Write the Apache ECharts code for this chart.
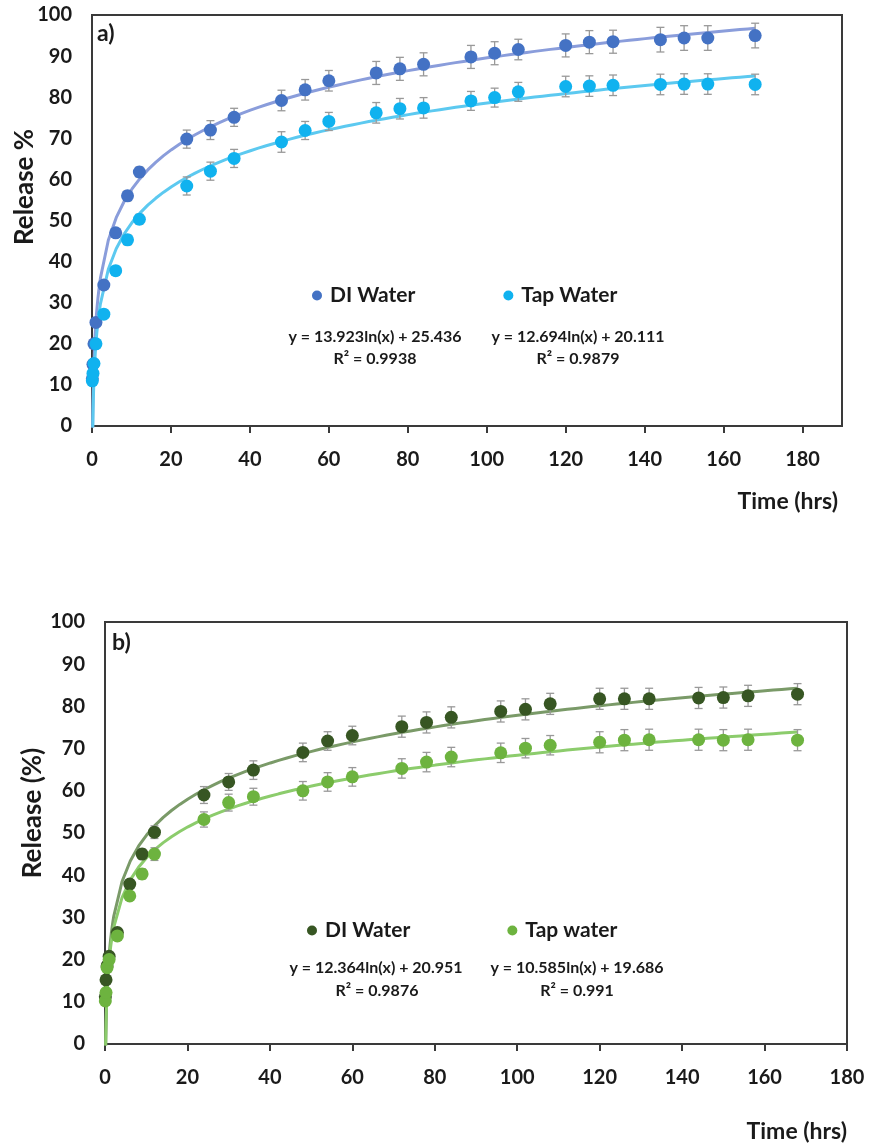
<!DOCTYPE html>
<html>
<head>
<meta charset="utf-8">
<title>Release curves</title>
<script src="https://cdn.jsdelivr.net/npm/echarts@6/dist/echarts.min.js"></script>
<style>
  html, body { margin: 0; padding: 0; background: #fff; }
  #chart { width: 871px; height: 1146px; }
</style>
</head>
<body>
<div id="chart"></div>
<script>
// sampling times (hrs)
var times = [0.083, 0.25, 0.5, 1, 3, 6, 9, 12, 24, 30, 36, 48, 54, 60, 72, 78, 84, 96, 102, 108, 120, 126, 132, 144, 150, 156, 168];

// a) release %
var diA = [11.5, 15, 20, 25.2, 34.3, 47, 56, 61.8, 69.8, 72, 75.1, 79.2, 81.8, 84, 85.9, 86.9, 88, 89.8, 90.7, 91.6, 92.6, 93.4, 93.5, 94, 94.4, 94.4, 95];
var tapA = [11, 12.8, 15.2, 20, 27.2, 37.8, 45.3, 50.3, 58.4, 62, 65.1, 69.1, 71.9, 74.1, 76.2, 77.2, 77.4, 79.1, 79.9, 81.3, 82.6, 82.7, 82.9, 83.1, 83.2, 83.2, 83.1];
var diErrA = [0.5, 0.5, 0.5, 0.8, 1, 1, 1.2, 1.2, 2.2, 2.3, 2.2, 2.5, 2.5, 2.5, 2.8, 2.8, 2.8, 2.8, 2.8, 2.5, 2.8, 2.8, 2.8, 3, 3, 3, 3];
var tapErrA = [0.5, 0.5, 0.5, 0.8, 1, 1, 1.2, 1.2, 2.2, 2.2, 2.2, 2.5, 2.2, 2.2, 2.5, 2.5, 2.5, 2.3, 2.3, 2.3, 2.5, 2.5, 2.5, 2.5, 2.5, 2.5, 2.5];

// b) release (%)
var diB = [11.2, 15.2, 18.5, 20.8, 26.4, 37.9, 45, 50.2, 59, 62.1, 64.9, 69.1, 71.8, 73.1, 75.2, 76.2, 77.4, 78.8, 79.3, 80.6, 81.8, 81.8, 81.8, 82, 82.1, 82.5, 82.9];
var tapB = [10.2, 12.2, 18.1, 20, 25.6, 35.1, 40.3, 45, 53.2, 57.2, 58.6, 60, 62.1, 63.3, 65.3, 66.8, 68, 69, 70.1, 70.8, 71.5, 72, 72.1, 72.1, 72, 72.1, 72];
var diErrB = [0.5, 0.5, 0.5, 0.8, 1, 1, 1.2, 1.5, 2, 2, 2.2, 2.2, 2.2, 2.2, 2.5, 2.5, 2.5, 2.5, 2.5, 2.5, 2.5, 2.5, 2.5, 2.5, 2.5, 2.5, 2.5];
var tapErrB = [0.5, 0.5, 0.5, 0.8, 1, 1, 1.2, 1.5, 1.8, 2, 2, 2.2, 2.2, 2.2, 2.3, 2.3, 2.3, 2.3, 2.3, 2.3, 2.5, 2.5, 2.5, 2.5, 2.5, 2.5, 2.5];

// log trendlines y = a ln(x) + b, as printed on the chart
var fitDiA = [13.923, 25.436];
var fitTapA = [12.694, 20.111];
var fitDiB = [12.364, 20.951];
var fitTapB = [10.585, 19.686];

var xTicks = [0, 20, 40, 60, 80, 100, 120, 140, 160, 180];
var yTicks = [0, 10, 20, 30, 40, 50, 60, 70, 80, 90, 100];

var FONT = 'Lato, "Open Sans", sans-serif';
var AXIS = '#3a3a3a';

function pairs(xs, ys) {
    return xs.map(function (x, i) { return [x, ys[i]]; });
}
function errData(xs, ys, es) {
    return xs.map(function (x, i) { return [x, ys[i] - es[i], ys[i] + es[i]]; });
}
function trend(coef) {
    // trendline drawn from the fitted equation over the data range
    var pts = [];
    var x = 0.1;
    while (x < 168) {
        pts.push([x, coef[0] * Math.log(x) + coef[1]]);
        x = x < 2 ? x * 1.12 : x + 2;
    }
    pts.push([168, coef[0] * Math.log(168) + coef[1]]);
    return pts;
}
function renderErr(params, api) {
    var x = api.value(0);
    var lo = api.coord([x, api.value(1)]);
    var hi = api.coord([x, api.value(2)]);
    var w = 4;
    var st = { stroke: '#999999', lineWidth: 1.3 };
    return {
        type: 'group',
        children: [
            { type: 'line', shape: { x1: lo[0], y1: lo[1], x2: hi[0], y2: hi[1] }, style: st },
            { type: 'line', shape: { x1: lo[0] - w, y1: lo[1], x2: lo[0] + w, y2: lo[1] }, style: st },
            { type: 'line', shape: { x1: hi[0] - w, y1: hi[1], x2: hi[0] + w, y2: hi[1] }, style: st }
        ]
    };
}

function xAxisOf(idx, max) {
    return {
        type: 'value', gridIndex: idx, min: 0, max: max, interval: 20,
        axisLine: { lineStyle: { color: AXIS, width: 2 } },
        axisTick: { show: true, inside: false, length: 7, customValues: xTicks, lineStyle: { color: AXIS, width: 2 } },
        axisLabel: { customValues: xTicks, margin: 24, fontSize: 20, fontWeight: 'bold', fontFamily: FONT, color: '#1a1a1a' },
        splitLine: { show: false }
    };
}
function yAxisOf(idx) {
    return {
        type: 'value', gridIndex: idx, min: 0, max: 100, interval: 10,
        axisLine: { show: true, lineStyle: { color: AXIS, width: 2 } },
        axisTick: { show: false },
        axisLabel: { margin: 20, fontSize: 20, fontWeight: 'bold', fontFamily: FONT, color: '#1a1a1a' },
        splitLine: { show: false }
    };
}

function txt(x, y, text, size, align, rot) {
    return {
        type: 'text', x: x, y: y, rotation: rot || 0, z: 10,
        style: {
            text: text, font: 'bold ' + size + 'px ' + FONT, fill: '#1a1a1a',
            align: align || 'center', verticalAlign: 'middle'
        }
    };
}

var legendText = { fontSize: 21, fontWeight: 'bold', fontFamily: FONT, color: '#1a1a1a', padding: [0, 0, 0, 3] };

var myChart = echarts.init(document.getElementById('chart'));
var options = {
    animation: false,
    backgroundColor: '#fff',
    grid: [
        { left: 92, right: 29, top: 15, height: 411, show: true, borderColor: AXIS, borderWidth: 2 },
        { left: 105, right: 24, top: 622, height: 422, show: true, borderColor: AXIS, borderWidth: 2 }
    ],
    xAxis: [xAxisOf(0, 190), xAxisOf(1, 180)],
    yAxis: [yAxisOf(0), yAxisOf(1)],
    legend: [
        {
            left: 312, top: 285, padding: 0, icon: 'circle', itemWidth: 10, itemHeight: 10, itemGap: 88,
            textStyle: legendText,
            data: [{ name: 'DI Water', itemStyle: { color: '#4472c4' } }, { name: 'Tap Water', itemStyle: { color: '#10b2ef' } }]
        },
        {
            left: 307, top: 920, padding: 0, icon: 'circle', itemWidth: 10, itemHeight: 10, itemGap: 97,
            textStyle: legendText,
            data: [{ name: 'DI Water', itemStyle: { color: '#375623' } }, { name: 'Tap water', itemStyle: { color: '#6db33f' } }]
        }
    ],
    graphic: [
        txt(97, 34, 'a)', 23, 'left'),
        txt(112, 643, 'b)', 23, 'left'),
        txt(25, 187, 'Release %', 26, 'center', Math.PI / 2),
        txt(33, 813, 'Release (%)', 26, 'center', Math.PI / 2),
        txt(838, 502, 'Time (hrs)', 23, 'right'),
        txt(847, 1132, 'Time (hrs)', 23, 'right'),
        txt(375, 337, 'y = 13.923ln(x) + 25.436', 16),
        txt(375, 359, 'R\u00b2 = 0.9938', 16),
        txt(578, 337, 'y = 12.694ln(x) + 20.111', 16),
        txt(578, 359, 'R\u00b2 = 0.9879', 16),
        txt(376, 968, 'y = 12.364ln(x) + 20.951', 16),
        txt(377, 991, 'R\u00b2 = 0.9876', 16),
        txt(577, 968, 'y = 10.585ln(x) + 19.686', 16),
        txt(577, 991, 'R\u00b2 = 0.991', 16)
    ],
    series: [
        // a) trendlines
        { type: 'line', name: 'fit DI a', xAxisIndex: 0, yAxisIndex: 0, data: trend(fitDiA), showSymbol: false, lineStyle: { color: '#8a9ddb', width: 3 }, z: 1 },
        { type: 'line', name: 'fit Tap a', xAxisIndex: 0, yAxisIndex: 0, data: trend(fitTapA), showSymbol: false, lineStyle: { color: '#5cc9f0', width: 3 }, z: 1 },
        // a) error bars
        { type: 'custom', name: 'err DI a', xAxisIndex: 0, yAxisIndex: 0, renderItem: renderErr, encode: { x: 0, y: [1, 2] }, data: errData(times, diA, diErrA), z: 2 },
        { type: 'custom', name: 'err Tap a', xAxisIndex: 0, yAxisIndex: 0, renderItem: renderErr, encode: { x: 0, y: [1, 2] }, data: errData(times, tapA, tapErrA), z: 2 },
        // a) points
        { type: 'scatter', name: 'DI Water', xAxisIndex: 0, yAxisIndex: 0, data: pairs(times, diA), symbolSize: 13, itemStyle: { color: '#4472c4', opacity: 1 }, z: 3 },
        { type: 'scatter', name: 'Tap Water', xAxisIndex: 0, yAxisIndex: 0, data: pairs(times, tapA), symbolSize: 13, itemStyle: { color: '#10b2ef', opacity: 1 }, z: 4 },

        // b) trendlines
        { type: 'line', name: 'fit DI b', xAxisIndex: 1, yAxisIndex: 1, data: trend(fitDiB), showSymbol: false, lineStyle: { color: '#7a9a68', width: 3 }, z: 1 },
        { type: 'line', name: 'fit Tap b', xAxisIndex: 1, yAxisIndex: 1, data: trend(fitTapB), showSymbol: false, lineStyle: { color: '#8ccc6c', width: 3 }, z: 1 },
        // b) error bars
        { type: 'custom', name: 'err DI b', xAxisIndex: 1, yAxisIndex: 1, renderItem: renderErr, encode: { x: 0, y: [1, 2] }, data: errData(times, diB, diErrB), z: 2 },
        { type: 'custom', name: 'err Tap b', xAxisIndex: 1, yAxisIndex: 1, renderItem: renderErr, encode: { x: 0, y: [1, 2] }, data: errData(times, tapB, tapErrB), z: 2 },
        // b) points
        { type: 'scatter', name: 'DI Water', xAxisIndex: 1, yAxisIndex: 1, data: pairs(times, diB), symbolSize: 13, itemStyle: { color: '#375623', opacity: 1 }, z: 3 },
        { type: 'scatter', name: 'Tap water', xAxisIndex: 1, yAxisIndex: 1, data: pairs(times, tapB), symbolSize: 13, itemStyle: { color: '#6db33f', opacity: 1 }, z: 4 }
    ]
};
myChart.setOption(options);
</script>
</body>
</html>
